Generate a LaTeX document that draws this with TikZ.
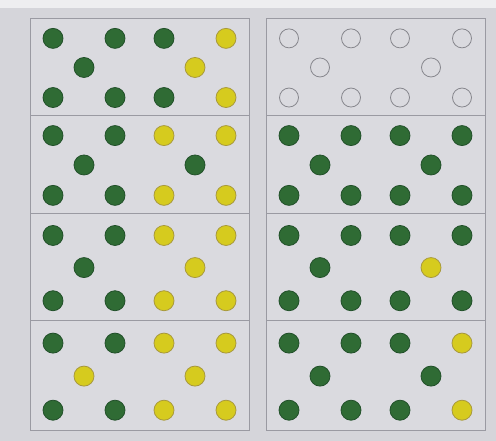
\documentclass[tikz,border=0pt]{standalone}
\usepackage{tikz}
\usetikzlibrary{calc}
\usepackage{xcolor}
\definecolor{paper}{HTML}{D5D5DA}
\definecolor{card}{HTML}{DADADF}
\definecolor{rule}{HTML}{9A9AA2}
\definecolor{leaf}{HTML}{2F6B34}
\definecolor{leafedge}{HTML}{22502A}
\definecolor{lemon}{HTML}{D6CB1E}
\definecolor{lemonedge}{HTML}{A8993C}
\definecolor{ring}{HTML}{85858C}
\tikzset{
  panel/.style={draw=rule,line width=0.9pt,fill=card,minimum width=219pt,inner sep=0pt,anchor=north west},
  dot/.style={circle,minimum size=20pt,inner sep=0pt,line width=0.8pt},
  gdot/.style={dot,fill=leaf,draw=leafedge},
  ydot/.style={dot,fill=lemon,draw=lemonedge},
  odot/.style={dot,fill=card,draw=ring,minimum size=19pt},
}
% name, left, top, height, ten dot styles (top row, middle pair, bottom row)
\newcommand{\dotpanel}[5]{%
  \node[panel,minimum height=#4pt] (#1) at (#2,#3) {};
  \foreach \c [count=\i] in {#5} {
    \pgfmathsetmacro{\dx}{{23,85,134,196,54,165,23,85,134,196}[\i-1]}
    \pgfmathsetmacro{\fy}{{0.21,0.21,0.21,0.21,0.51,0.51,0.82,0.82,0.82,0.82}[\i-1]}
    \node[\c] (#1-\i) at ($(#1.north west)+(\dx pt,-\fy*#4 pt)$) {};
  }
}

\begin{document}
\begin{tikzpicture}[x=1pt,y=-1pt]
  \fill[paper] (0,0) rectangle (496,441);
  \fill[white!60!paper] (0,0) rectangle (496,8);
  \useasboundingbox (0,0) rectangle (496,441);
  % left column
  \dotpanel{L1}{30}{18}{97}{gdot,gdot,gdot,ydot,gdot,ydot,gdot,gdot,gdot,ydot}
  \dotpanel{L2}{30}{115}{98}{gdot,gdot,ydot,ydot,gdot,gdot,gdot,gdot,ydot,ydot}
  \dotpanel{L3}{30}{213}{107}{gdot,gdot,ydot,ydot,gdot,ydot,gdot,gdot,ydot,ydot}
  \dotpanel{L4}{30}{320}{110}{gdot,gdot,ydot,ydot,ydot,ydot,gdot,gdot,ydot,ydot}
  % right column
  \dotpanel{R1}{266}{18}{97}{odot,odot,odot,odot,odot,odot,odot,odot,odot,odot}
  \dotpanel{R2}{266}{115}{98}{gdot,gdot,gdot,gdot,gdot,gdot,gdot,gdot,gdot,gdot}
  \dotpanel{R3}{266}{213}{107}{gdot,gdot,gdot,gdot,gdot,ydot,gdot,gdot,gdot,gdot}
  \dotpanel{R4}{266}{320}{110}{gdot,gdot,gdot,ydot,gdot,gdot,gdot,gdot,gdot,ydot}
\end{tikzpicture}
\end{document}
